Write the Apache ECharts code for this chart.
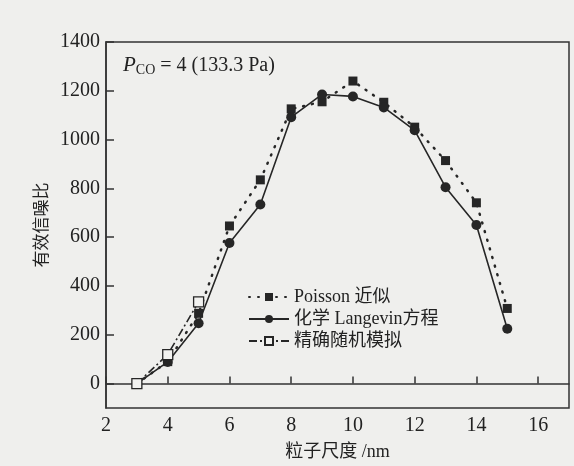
<!DOCTYPE html>
<html>
<head>
<meta charset="utf-8">
<script src="https://cdn.jsdelivr.net/npm/echarts@6/dist/echarts.min.js"></script>
<style>
html,body{margin:0;padding:0;background:#efefed;}
#c{width:574px;height:466px;}
</style>
</head>
<body>
<div id="c"></div>
<script>
// ---- data ----
var sizes = [3, 4, 5, 6, 7, 8, 9, 10, 11, 12, 13, 14, 15];
var poisson = [0, 90, 288, 646, 835, 1126, 1155, 1240, 1153, 1051, 914, 741, 308];
var langevin = [0, 89, 247, 576, 734, 1092, 1185, 1177, 1132, 1038, 805, 650, 225];
var exactSizes = [3, 4, 5];
var exact = [0, 119, 335];
var xTicks = [2, 4, 6, 8, 10, 12, 14, 16];
var yTicks = [0, 200, 400, 600, 800, 1000, 1200, 1400];
var seriesNames = ['Poisson 近似', '化学 Langevin方程', '精确随机模拟'];

function pairs(xs, ys) { return xs.map(function (x, i) { return [x, ys[i]]; }); }

var ink = '#262626';
var serif = '"Liberation Serif", "Noto Sans CJK SC", serif';
var chart = echarts.init(document.getElementById('c'));
chart.setOption({
  backgroundColor: '#efefed',
  animation: false,
  grid: { left: 106, right: 5, top: 42, bottom: 54, show: true, borderColor: '#333', borderWidth: 1.5, backgroundColor: 'transparent' },
  xAxis: {
    type: 'value', min: 2, max: 17,
    name: '粒子尺度 /nm', nameLocation: 'middle', nameGap: 35,
    nameTextStyle: { fontFamily: serif, fontSize: 18, color: '#222' },
    axisLine: { show: true, lineStyle: { color: '#333', width: 1.5 } },
    axisTick: { show: true, inside: true, length: 7, customValues: xTicks, lineStyle: { color: '#333', width: 1.5 } },
    axisLabel: { customValues: xTicks, formatter: function (v) { return String(v); }, fontFamily: serif, fontSize: 20, color: '#222', margin: 8 },
    splitLine: { show: false }
  },
  yAxis: {
    type: 'value', min: -100, max: 1400,
    name: '有效信噪比', nameLocation: 'middle', nameGap: 39, nameRotate: 90,
    nameTextStyle: { fontFamily: '"Noto Sans CJK SC", sans-serif', fontSize: 17, color: '#222' },
    axisLine: { show: true, lineStyle: { color: '#333', width: 1.5 } },
    axisTick: { show: true, inside: true, length: 8, customValues: yTicks, lineStyle: { color: '#333', width: 1.5 } },
    axisLabel: { customValues: yTicks, formatter: function (v) { return String(v); }, fontFamily: serif, fontSize: 20, color: '#222', margin: 6 },
    splitLine: { show: false }
  },
  legend: {
    orient: 'vertical', left: 243, top: 283, itemGap: 4,
    itemWidth: 40, itemHeight: 10,
    textStyle: { fontFamily: serif, fontSize: 18, color: '#222' },
    data: seriesNames
  },
  graphic: [{
    type: 'text', left: 123, top: 55,
    style: {
      text: '{p|P}{s|CO}{n| = 4 (133.3 Pa)}',
      rich: {
        p: { fontFamily: serif, fontStyle: 'italic', fontSize: 21, fill: '#222' },
        s: { fontFamily: serif, fontSize: 14, fill: '#222', padding: [10, 0, 0, 0] },
        n: { fontFamily: serif, fontSize: 20, fill: '#222' }
      }
    }
  }],
  series: [
    {
      name: seriesNames[0], type: 'line', data: pairs(sizes, poisson),
      symbol: 'rect', symbolSize: 9, z: 3,
      itemStyle: { color: ink },
      lineStyle: { color: ink, width: 2.5, type: [1, 8], cap: 'round' }
    },
    {
      name: seriesNames[1], type: 'line', data: pairs(sizes, langevin),
      symbol: 'circle', symbolSize: 10, z: 4,
      itemStyle: { color: ink },
      lineStyle: { color: ink, width: 1.6, type: 'solid' }
    },
    {
      name: seriesNames[2], type: 'line', data: pairs(exactSizes, exact),
      symbol: 'rect', symbolSize: 10, z: 5,
      itemStyle: { color: '#f2f2f0', borderColor: ink, borderWidth: 1.3 },
      lineStyle: { color: ink, width: 1.6, type: [8, 3, 2, 3] }
    }
  ]
});
</script>
</body>
</html>
